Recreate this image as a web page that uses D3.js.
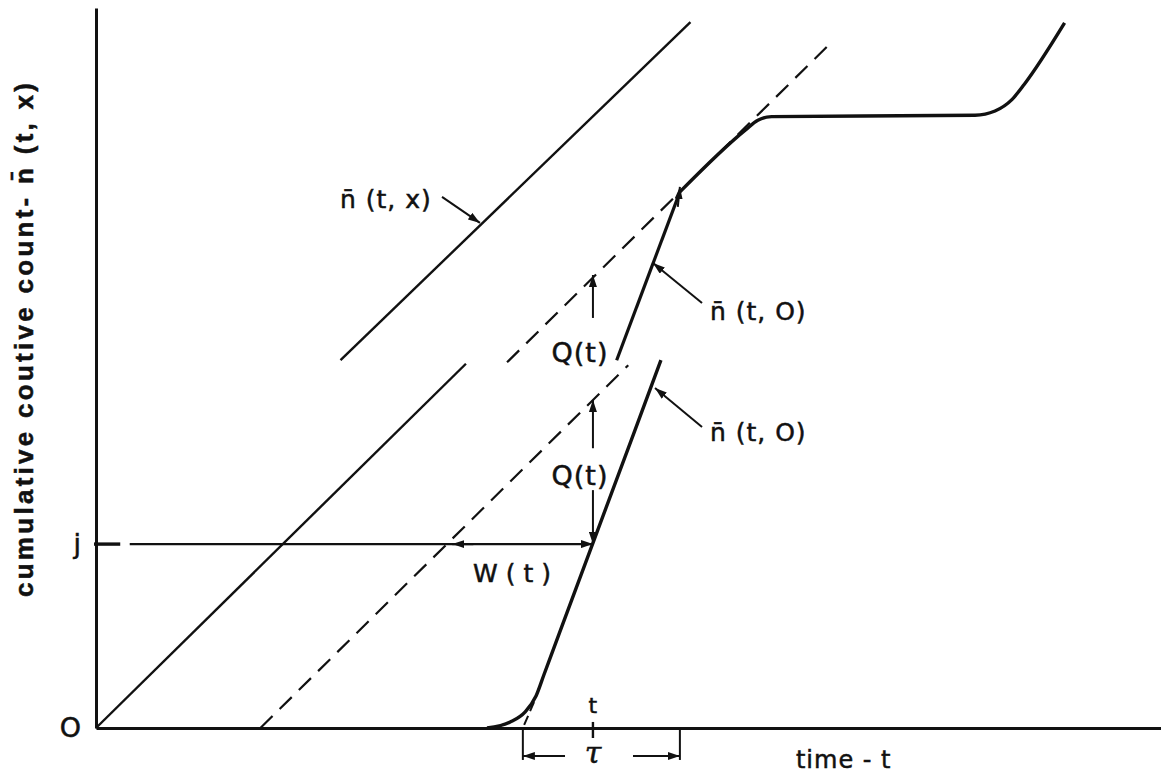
<!DOCTYPE html>
<html>
<head>
<meta charset="utf-8">
<script src="https://cdn.jsdelivr.net/npm/d3@7"></script>
<style>
  body { margin: 0; background: #fff; }
  text { font-family: "DejaVu Sans", sans-serif; fill: #111; stroke: #111; stroke-width: 0.5; }
</style>
</head>
<body>
<svg id="chart" width="1164" height="773"></svg>
<script>
// Curves as [time, count]
const arrivalLower = [[0, 0], [35.1, 51.3]];
const arrivalUpper = [[23.2, 51.8], [56.4, 99.4]];
const shiftedLower = [[15.6, 0], [50.5, 51.1]];
const shiftedUpper = [[39.0, 51.5], [69.8, 96.6]];
const departLower = [[37.1, 0], [39.3, 0.85], [40.7, 2.25], [41.75, 4.5], [42.5, 7.5], [44, 13.5],
  [51, 41.4], [53.6, 51.8]];
const departUpperA = [[49.4, 51.8], [55.4, 75.5]];
const departUpperB = [[55.4, 75.5], [61.6, 84.2], [62.8, 85.6], [64.1, 86.1], [83.4, 86.3],
  [85.3, 86.9], [86.9, 88.5], [88.1, 90.7], [91.9, 99.3]];
const tangentExt = [[41.56, 3.66], [40.5, 0]];

// Marked levels and times
const jLevel = 25.9;
const tNow = 47.15;
const wStart = 33.8;
const tauStart = 40.5;
const tauEnd = 55.4;
const qUpper = [57.75, 63.8];
const qLowerUp = [39.4, 46.2];
const qLowerDown = [33.5, 25.9];

// Pointer arrows [from, to] and their labels
const pointers = [
  [[32.83, 74.79], [36.43, 71.13]],
  [[57.5, 59.86], [52.85, 65.49]],
  [[57.5, 42.39], [53.04, 47.89]],
];
const labels = [
  { text: "n\u0304 (t, x)", at: [23.15, 73.3] },
  { text: "n\u0304 (t, O)", at: [58.25, 57.46] },
  { text: "n\u0304 (t, O)", at: [58.25, 40.42] },
];

const svg = d3.select("#chart");

const x = d3.scaleLinear().domain([0, 101]).range([96, 1160.5]);
const y = d3.scaleLinear().domain([0, 101.4]).range([728, 8]);

// arrowhead marker
svg.append("defs")
  .append("marker")
  .attr("id", "ah")
  .attr("viewBox", "0 0 12 8")
  .attr("refX", 12)
  .attr("refY", 4)
  .attr("markerWidth", 12)
  .attr("markerHeight", 8)
  .attr("markerUnits", "userSpaceOnUse")
  .attr("orient", "auto")
  .append("path")
  .attr("d", "M0,0L12,4L0,8z")
  .attr("fill", "#111");

const line = d3.line().x((d) => x(d[0])).y((d) => y(d[1]));
const smooth = d3.line().curve(d3.curveMonotoneX).x((d) => x(d[0])).y((d) => y(d[1]));

// Axes
const yAxis = svg.append("g")
  .attr("transform", `translate(${x(0)},0)`)
  .call(d3.axisLeft(y).tickValues([0, jLevel]).tickFormat((d) => (d === 0 ? "O" : "j"))
    .tickSize(0).tickSizeOuter(0).tickPadding(15));
yAxis.select(".domain").attr("stroke", "#111").attr("stroke-width", 3);
yAxis.selectAll("text").attr("font-size", 27).attr("fill", "#111")
  .style("font-family", "DejaVu Sans, sans-serif");

const xAxis = svg.append("g")
  .attr("transform", `translate(0,${y(0)})`)
  .call(d3.axisBottom(x).tickValues([]).tickSizeOuter(0));
xAxis.select(".domain").attr("stroke", "#111").attr("stroke-width", 3);

// straight arrival lines
[arrivalLower, arrivalUpper].forEach((d) => {
  svg.append("path").datum(d).attr("d", line)
    .attr("fill", "none").attr("stroke", "#111").attr("stroke-width", 2.4);
});

// shifted (dashed) lines
[shiftedLower, shiftedUpper].forEach((d) => {
  svg.append("path").datum(d).attr("d", line)
    .attr("fill", "none").attr("stroke", "#111").attr("stroke-width", 2.2)
    .attr("stroke-dasharray", "17,10");
});
svg.append("path").datum(tangentExt).attr("d", line)
  .attr("fill", "none").attr("stroke", "#111").attr("stroke-width", 2)
  .attr("stroke-dasharray", "10,5");

// departure curves
[departLower, departUpperB].forEach((d) => {
  svg.append("path").datum(d).attr("d", smooth)
    .attr("fill", "none").attr("stroke", "#111").attr("stroke-width", 3.4)
    .attr("stroke-linejoin", "round");
});
svg.append("path").datum(departUpperA).attr("d", line)
  .attr("fill", "none").attr("stroke", "#111").attr("stroke-width", 3.2);

// small arrow mark where the upper curve meets the dashed line
svg.append("line")
  .attr("x1", x(55.2)).attr("y1", y(73.4)).attr("x2", x(55.4)).attr("y2", y(76.2))
  .attr("stroke", "#111").attr("stroke-width", 2).attr("marker-end", "url(#ah)");

// j level line with W(t) arrows
svg.append("line")
  .attr("x1", x(0) - 2).attr("x2", x(2.3)).attr("y1", y(jLevel)).attr("y2", y(jLevel))
  .attr("stroke", "#111").attr("stroke-width", 3.4);
svg.append("line")
  .attr("x1", x(3.2)).attr("x2", x(tNow)).attr("y1", y(jLevel)).attr("y2", y(jLevel))
  .attr("stroke", "#111").attr("stroke-width", 2.2).attr("marker-end", "url(#ah)");
svg.append("line")
  .attr("x1", x(wStart + 2)).attr("x2", x(wStart)).attr("y1", y(jLevel)).attr("y2", y(jLevel))
  .attr("stroke", "#111").attr("stroke-width", 2.2).attr("marker-end", "url(#ah)");

// Q(t) arrows
[qUpper, qLowerUp, qLowerDown].forEach((q) => {
  svg.append("line")
    .attr("x1", x(tNow)).attr("x2", x(tNow)).attr("y1", y(q[0])).attr("y2", y(q[1]))
    .attr("stroke", "#111").attr("stroke-width", 2).attr("marker-end", "url(#ah)");
});

// pointer arrows
pointers.forEach((p) => {
  svg.append("line")
    .attr("x1", x(p[0][0])).attr("y1", y(p[0][1])).attr("x2", x(p[1][0])).attr("y2", y(p[1][1]))
    .attr("stroke", "#111").attr("stroke-width", 2).attr("marker-end", "url(#ah)");
});

// t tick and tau interval
svg.append("line")
  .attr("x1", x(tNow)).attr("x2", x(tNow)).attr("y1", y(0.85)).attr("y2", y(-1.41))
  .attr("stroke", "#111").attr("stroke-width", 2.4);
[tauStart, tauEnd].forEach((v) => {
  svg.append("line")
    .attr("x1", x(v)).attr("x2", x(v)).attr("y1", y(0)).attr("y2", y(-4.5))
    .attr("stroke", "#111").attr("stroke-width", 2);
});
[[44.5, tauStart], [50.95, tauEnd]].forEach((a) => {
  svg.append("line")
    .attr("x1", x(a[0])).attr("x2", x(a[1])).attr("y1", y(-3.94)).attr("y2", y(-3.94))
    .attr("stroke", "#111").attr("stroke-width", 2).attr("marker-end", "url(#ah)");
});

// labels
labels.forEach((l) => {
  svg.append("text").attr("x", x(l.at[0])).attr("y", y(l.at[1]))
    .attr("font-size", 25).attr("letter-spacing", 1).text(l.text);
});
svg.append("text").attr("x", x(45.92)).attr("y", y(51.55))
  .attr("text-anchor", "middle").attr("font-size", 27).attr("letter-spacing", 1).text("Q(t)");
svg.append("text").attr("x", x(45.92)).attr("y", y(34.23))
  .attr("text-anchor", "middle").attr("font-size", 27).attr("letter-spacing", 1).text("Q(t)");
svg.append("text").attr("x", x(39.47)).attr("y", y(20.56))
  .attr("text-anchor", "middle").attr("font-size", 25).text("W ( t )");
svg.append("text").attr("x", x(tNow)).attr("y", y(2.11))
  .attr("text-anchor", "middle").attr("font-size", 22).text("t");
svg.append("text").attr("x", x(tNow)).attr("y", y(-4.93))
  .attr("text-anchor", "middle").attr("font-size", 30)
  .style("font-family", "DejaVu Serif, serif").style("font-style", "italic").text("τ");
svg.append("text").attr("x", x(66.41)).attr("y", y(-5.63))
  .attr("font-size", 24).attr("letter-spacing", 1).text("time - t");

// y axis title
svg.append("text")
  .attr("transform", "translate(33,597) rotate(-90)")
  .attr("font-size", 26).attr("font-weight", "bold")
  .style("font-family", "Liberation Sans, sans-serif")
  .attr("textLength", 514).attr("lengthAdjust", "spacing")
  .text("cumulative coutive count- n\u0304 (t, x)");
</script>
</body>
</html>
